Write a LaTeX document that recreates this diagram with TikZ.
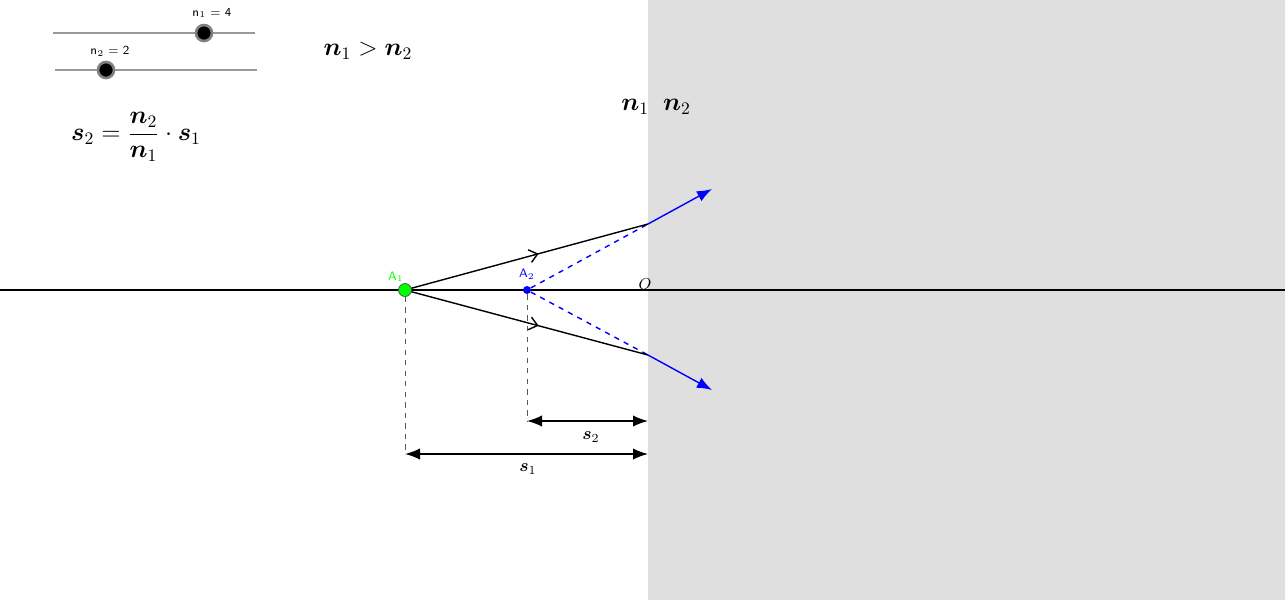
\documentclass[tikz,border=0pt]{standalone}
\usepackage{amsmath}
\usepackage{amssymb}
\usepackage{tikz}
\usetikzlibrary{arrows.meta,decorations.markings}
\def\bn{\boldsymbol n}
\def\bs{\boldsymbol s}

\begin{document}
\begin{tikzpicture}[x=0.02cm,y=-0.02cm]
\tikzstyle{ray}=[thick, postaction={decorate}, decoration={markings, mark=at position 0.55 with {\arrow{Straight Barb[length=1.6mm,width=2.6mm]}}}]
\tikzstyle{virt}=[thick, blue, dashed]
\tikzstyle{refr}=[thick, blue, -{Latex[length=3mm]}]
\tikzstyle{dim}=[thick, {Latex[length=3mm]}-{Latex[length=3mm]}]
\tikzstyle{drop}=[gray!70!black, dashed]
\tikzstyle{slider}=[very thick, gray!80]
\tikzstyle{knob}=[circle, fill=black, draw=gray, line width=1.5pt, inner sep=0pt, minimum size=3.2mm]
\tikzstyle{small}=[font=\sffamily\scriptsize]
\useasboundingbox (0,0) rectangle (1285,600);
\fill[gray!25] (648,0) rectangle (1285,600);
% sliders
\coordinate (s1a) at (53,33); \coordinate (s1b) at (255,33);
\coordinate (s2a) at (55,70); \coordinate (s2b) at (257,70);
\draw[slider] (s1a) -- (s1b);
\draw[slider] (s2a) -- (s2b);
\node[knob] (k1) at (204,33) {};
\node[knob] (k2) at (106,70) {};
\node[small] (l1) at (212,13) {n$_1$ = 4};
\node[small] (l2) at (110,51) {n$_2$ = 2};
% texts
\node (cmp) at (368,51) {\Large $\bn_1 > \bn_2$};
\node (med) at (656,107) {\Large $\bn_1\;\;\bn_2$};
\node (frm) at (136,137) {\Large $\bs_2=\dfrac{\bn_2}{\bn_1}\cdot \bs_1$};
% axis
\coordinate (L) at (0,290); \coordinate (R) at (1285,290);
\draw[thick] (L) -- (R);
\node[font=\small\itshape] (O) at (645,284) {$O$};
% points
\coordinate (P) at (648,224);
\coordinate (Q) at (648,355);
\coordinate (U) at (712,189);
\coordinate (D) at (712,390);
\node[circle, fill=blue, inner sep=0pt, minimum size=1.6mm] (A2) at (527,290) {};
\draw[virt] (A2) -- (P);
\draw[virt] (A2) -- (Q);
\draw[ray] (405,290) -- (P);
\draw[ray] (405,290) -- (Q);
\draw[refr] (P) -- (U);
\draw[refr] (Q) -- (D);
\node[circle, fill=green, draw=black!70, inner sep=0pt, minimum size=2.6mm] (A1) at (405,290) {};
\node[small, green, above left=-1mm] at (A1.north) {A$_1$};
\node[small, blue, above=0mm] at (A2.north) {A$_2$};
% dimensions
\coordinate (d1) at (405,454); \coordinate (e1) at (648,454);
\coordinate (d2) at (527,421); \coordinate (e2) at (648,421);
\draw[drop] (A1) -- (d1);
\draw[drop] (A2) -- (d2);
\draw[dim] (d2) -- (e2);
\draw[dim] (d1) -- (e1);
\node (ls2) at (591,437) {$\bs_2$};
\node (ls1) at (528,469) {$\bs_1$};
\end{tikzpicture}
\end{document}
